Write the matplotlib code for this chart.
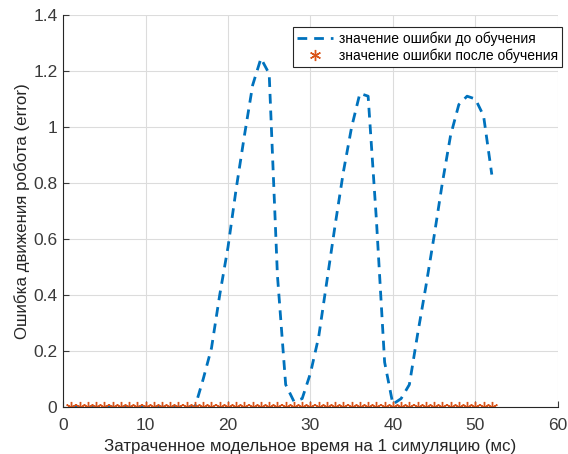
import matplotlib
matplotlib.use("Agg")
import matplotlib.pyplot as plt
import numpy as np

x_vals = list(range(1, 53))
err_before = [0]*15 + [0.0, 0.10, 0.21, 0.40, 0.57, 0.78, 0.97, 1.15, 1.245, 1.19,
              0.47, 0.08, 0.02, 0.03, 0.12, 0.25, 0.45, 0.65, 0.84, 1.00, 1.12,
              1.11, 0.67, 0.16, 0.01, 0.03, 0.08, 0.26, 0.43, 0.61, 0.80, 0.97,
              1.08, 1.11, 1.10, 1.04, 0.83]
err_after = [0.0]*52

xticks = [0, 10, 20, 30, 40, 50, 60]
yticks = [0, 0.2, 0.4, 0.6, 0.8, 1.0, 1.2, 1.4]
ytick_labels = ['0', '0.2', '0.4', '0.6', '0.8', '1', '1.2', '1.4']

plt.rcParams['font.family'] = ['Liberation Sans', 'DejaVu Sans']

fig = plt.figure(figsize=(5.68, 4.54), dpi=100)
ax = fig.add_axes([0.111, 0.1035, 0.871, 0.8635])

ax.plot(x_vals, err_before, linestyle='--', color='#0072BD', linewidth=2,
        dashes=(3.5, 2.5), label='значение ошибки до обучения')
ax.plot(x_vals, err_after, linestyle='none', marker=(6, 2, 0), color='#D95319',
        markersize=8, markeredgewidth=1.0, label='значение ошибки после обучения')

ax.set_xlim(0, 60)
ax.set_ylim(0, 1.4)
ax.set_xticks(xticks)
ax.set_yticks(yticks)
ax.set_yticklabels(ytick_labels)
ax.grid(True, color='#dcdcdc', linewidth=0.8)
ax.set_axisbelow(True)
for s in ['top', 'right']:
    ax.spines[s].set_visible(False)
for s in ['left', 'bottom']:
    ax.spines[s].set_color('#262626')
ax.tick_params(direction='in', colors='#3a3a3a', labelsize=12.5, length=4)
ax.tick_params(axis='x', pad=8)
ax.tick_params(axis='y', pad=4)

ax.set_xlabel('Затраченное модельное время на 1 симуляцию (мс)', fontsize=12.2,
              color='#262626', labelpad=4)
ax.set_ylabel('Ошибка движения робота (error)', fontsize=12.2, color='#262626',
              labelpad=2)

leg = ax.legend(loc='upper right', fontsize=10, frameon=True, fancybox=False,
                edgecolor='#262626', framealpha=1, borderpad=0.3, borderaxespad=0,
                handlelength=2.6, labelspacing=0.2, handletextpad=0.4,
                bbox_to_anchor=(1.009, 0.969))
leg.get_frame().set_linewidth(0.8)

fig.savefig('out.png', dpi=100)
